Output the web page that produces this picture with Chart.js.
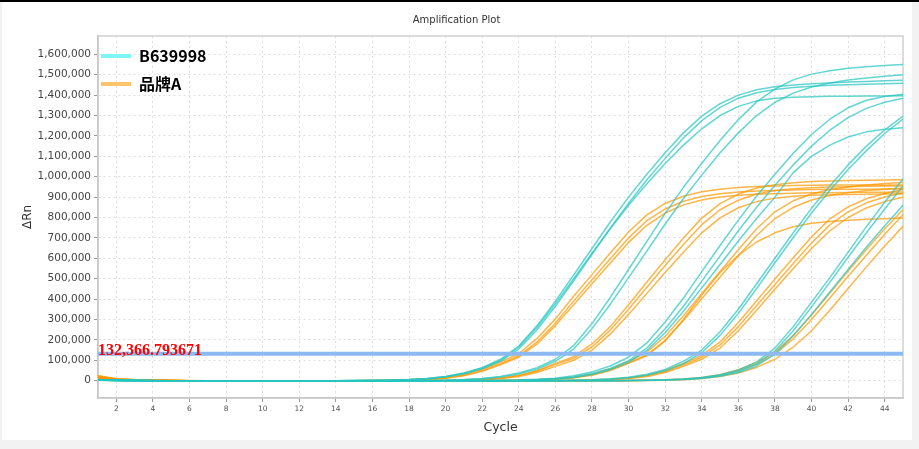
<!DOCTYPE html>
<html>
<head>
<meta charset="utf-8">
<title>Amplification Plot</title>
<script src="https://cdn.jsdelivr.net/npm/chart.js@4.4.1/dist/chart.umd.min.js"></script>
<style>
  html, body { margin: 0; padding: 0; }
  body { width: 919px; height: 449px; background: #f2f2f2; position: relative; overflow: hidden; }
  #topline { position: absolute; left: 0; top: 0; width: 919px; height: 2px; background: #000; }
  #panel { position: absolute; left: 2px; top: 2px; width: 910px; height: 438px; background: #fff; }
  #wrap { position: absolute; left: 0; top: 0; width: 919px; height: 449px; }
</style>
</head>
<body>
<div id="topline"></div>
<div id="panel"></div>
<div id="wrap"><canvas id="chart"></canvas></div>
<script>
// amplification plot - delta Rn per cycle, values in thousands
// cyan = B639998, orange = 品牌A, blue line = threshold

const cycles = [1, 2, 3, 4, 5, 6, 7, 8, 9, 10, 11, 12, 13, 14, 15, 16, 17, 18, 19, 20, 21, 22, 23,
  24, 25, 26, 27, 28, 29, 30, 31, 32, 33, 34, 35, 36, 37, 38, 39, 40, 41, 42, 43, 44, 45];
const cycleTicks = [2, 4, 6, 8, 10, 12, 14, 16, 18, 20, 22, 24, 26, 28, 30, 32, 34, 36, 38, 40, 42, 44];
const rnTicks = [0, 100, 200, 300, 400, 500, 600, 700, 800, 900, 1000, 1100, 1200, 1300, 1400, 1500, 1600];

const threshold = 132.366793671;
const thresholdText = "132,366.793671";

// B639998
const cyanA1 = [5,3,2,1,0,0,0,0,0,0,0,0,0,0,1,2,3,6,11,21,38,64,105,170,270,390,518,648,778,900,1012,1118,1215,1297,1358,1400,1426,1441,1450,1456,1460,1464,1467,1470,1473];
const cyanA2 = [4,2,1,1,0,0,0,0,0,0,0,0,0,0,1,1,3,5,9,18,33,58,95,155,250,365,490,620,748,870,985,1090,1190,1275,1340,1385,1412,1428,1438,1444,1448,1451,1454,1456,1458];
const cyanA3 = [6,3,2,1,0,0,0,0,0,0,0,0,0,0,1,2,3,6,11,20,36,62,100,165,262,378,500,625,745,860,965,1065,1155,1235,1300,1345,1372,1385,1390,1392,1394,1395,1396,1396,1397];
const cyanB1 = [4,2,1,0,0,0,0,0,0,0,0,0,0,0,0,0,0,1,2,3,6,11,21,38,64,105,172,280,408,545,683,820,948,1066,1178,1280,1367,1430,1475,1503,1520,1532,1539,1545,1550];
const cyanB2 = [3,2,1,0,0,0,0,0,0,0,0,0,0,0,0,0,0,1,1,2,5,9,18,33,57,95,155,255,375,505,635,768,893,1008,1118,1215,1300,1365,1410,1440,1460,1474,1484,1493,1500];
const cyanC1 = [5,2,1,0,0,0,0,0,0,0,0,0,0,0,0,0,0,0,0,0,0,1,2,3,7,12,24,43,72,115,185,288,405,535,663,787,905,1012,1115,1207,1282,1338,1375,1393,1405];
const cyanC2 = [3,1,1,0,0,0,0,0,0,0,0,0,0,0,0,0,0,0,0,0,0,1,1,2,5,9,19,35,60,98,160,255,365,488,612,735,850,958,1058,1150,1228,1290,1335,1365,1385];
const cyanC3 = [2,1,0,0,0,0,0,0,0,0,0,0,0,0,0,0,0,0,0,0,0,1,1,2,4,8,16,30,54,90,148,235,340,455,570,685,795,900,1020,1100,1155,1195,1220,1233,1240];
const cyanD1 = [3,1,0,0,0,0,0,0,0,0,0,0,0,0,0,0,0,0,0,0,0,0,0,0,0,1,2,4,9,17,31,55,95,150,240,350,475,600,725,845,955,1058,1150,1230,1297];
const cyanD2 = [2,1,0,0,0,0,0,0,0,0,0,0,0,0,0,0,0,0,0,0,0,0,0,0,0,1,2,3,7,14,27,48,83,137,222,330,452,578,702,822,932,1035,1128,1212,1283];
const cyanE1 = [4,2,1,0,0,0,0,0,0,0,0,0,0,0,0,0,0,0,0,0,0,0,0,0,0,0,0,0,0,1,2,4,8,15,29,52,92,160,265,385,505,630,755,875,990];
const cyanE2 = [3,1,0,0,0,0,0,0,0,0,0,0,0,0,0,0,0,0,0,0,0,0,0,0,0,0,0,0,0,1,2,3,7,13,25,46,82,145,245,362,482,605,725,842,955];
const cyanE3 = [2,1,0,0,0,0,0,0,0,0,0,0,0,0,0,0,0,0,0,0,0,0,0,0,0,0,0,0,0,1,1,3,6,11,22,40,72,130,220,325,435,545,655,760,860];

// 品牌A
const orangeA1 = [25,10,5,3,2,1,0,0,0,0,0,0,0,0,0,1,2,4,8,15,30,56,91,133,207,303,414,520,626,729,813,869,904,926,939,947,952,955,957,958,959,959,960,960,960];
const orangeA2 = [22,8,4,2,1,0,0,0,0,0,0,0,0,0,0,1,2,3,7,13,26,50,83,122,190,283,390,495,598,700,785,842,880,903,917,925,930,933,935,937,938,939,939,940,940];
const orangeA3 = [18,7,3,2,1,0,0,0,0,0,0,0,0,0,0,1,1,3,6,12,24,46,78,115,180,270,372,475,577,678,762,822,862,886,900,909,914,917,919,921,922,923,924,924,925];
const orangeB1 = [20,8,4,2,1,0,0,0,0,0,0,0,0,0,0,0,0,0,1,2,3,7,13,26,50,85,118,180,265,372,484,593,700,797,868,915,945,961,970,976,979,981,983,984,985];
const orangeB2 = [16,6,3,2,1,0,0,0,0,0,0,0,0,0,0,0,0,0,1,1,3,6,12,24,46,80,110,165,248,350,458,565,668,765,838,885,915,932,941,946,949,951,953,954,955];
const orangeB3 = [12,5,2,1,1,0,0,0,0,0,0,0,0,0,0,0,0,0,1,1,2,5,10,20,40,70,100,150,228,325,428,530,630,725,798,848,878,895,904,909,912,913,914,915,916];
const orangeC1 = [20,8,4,2,1,0,0,0,0,0,0,0,0,0,0,0,0,0,0,0,0,1,1,2,4,9,16,32,58,94,140,218,318,428,535,642,745,828,882,915,937,950,960,967,972];
const orangeC2 = [15,6,3,1,1,0,0,0,0,0,0,0,0,0,0,0,0,0,0,0,0,0,1,2,4,8,15,29,53,87,127,198,295,402,508,612,712,795,850,886,908,922,932,939,945];
const orangeC3 = [10,4,2,1,0,0,0,0,0,0,0,0,0,0,0,0,0,0,0,0,0,0,1,2,4,7,14,27,50,85,122,195,300,420,530,615,680,725,755,772,781,787,791,794,797];
const orangeD1 = [14,5,2,1,0,0,0,0,0,0,0,0,0,0,0,0,0,0,0,0,0,0,0,0,0,1,2,4,7,14,27,50,84,124,190,285,392,498,603,705,793,852,892,918,937];
const orangeD2 = [12,5,2,1,0,0,0,0,0,0,0,0,0,0,0,0,0,0,0,0,0,0,0,0,0,1,1,3,6,12,24,45,77,115,175,265,368,472,575,675,764,828,872,901,920];
const orangeD3 = [9,3,1,0,0,0,0,0,0,0,0,0,0,0,0,0,0,0,0,0,0,0,0,0,0,0,1,3,5,10,20,40,70,105,160,245,345,448,550,648,735,800,847,878,900];
const orangeE1 = [16,6,3,1,0,0,0,0,0,0,0,0,0,0,0,0,0,0,0,0,0,0,0,0,0,0,0,0,0,1,2,4,8,15,29,54,88,140,222,322,430,538,643,745,838];
const orangeE2 = [13,5,2,1,0,0,0,0,0,0,0,0,0,0,0,0,0,0,0,0,0,0,0,0,0,0,0,0,0,1,2,3,7,13,26,48,80,130,205,300,405,512,615,718,814];
const orangeE3 = [10,4,2,1,0,0,0,0,0,0,0,0,0,0,0,0,0,0,0,0,0,0,0,0,0,0,0,0,0,0,1,2,5,10,20,38,65,105,165,245,345,452,558,660,757];

const cyanSeries = [cyanA1, cyanA2, cyanA3, cyanB1, cyanB2, cyanC1, cyanC2, cyanC3, cyanD1, cyanD2, cyanE1, cyanE2, cyanE3];
const orangeSeries = [orangeA1, orangeA2, orangeA3, orangeB1, orangeB2, orangeB3, orangeC1, orangeC2, orangeC3,
  orangeD1, orangeD2, orangeD3, orangeE1, orangeE2, orangeE3];

const cyanLine = "rgba(38, 198, 194, 0.72)";
const orangeLine = "rgba(255, 152, 0, 0.72)";
const font = "'DejaVu Sans', sans-serif";

// threshold goes first so it is drawn on top
const datasets = [
  {
    label: "threshold",
    data: [{ x: 1, y: threshold }, { x: 45, y: threshold }],
    borderColor: "#8db9f3",
    borderWidth: 4,
    pointRadius: 0,
  },
];
cyanSeries.forEach((s) => {
  datasets.push({ label: "B639998", data: s, borderColor: cyanLine, borderWidth: 1.5, pointRadius: 0, tension: 0 });
});
orangeSeries.forEach((s) => {
  datasets.push({ label: "品牌A", data: s, borderColor: orangeLine, borderWidth: 1.5, pointRadius: 0, tension: 0 });
});

// grey box round the plot
const framePlugin = {
  id: "frame",
  beforeDatasetsDraw(chart) {
    const { ctx, chartArea: a } = chart;
    ctx.save();
    ctx.strokeStyle = "#d0d0d0";
    ctx.lineWidth = 1.5;
    ctx.strokeRect(a.left, a.top, a.right - a.left, a.bottom - a.top);
    ctx.restore();
  },
};

// red number sitting on the threshold line
const thresholdLabel = {
  id: "thresholdLabel",
  afterDatasetsDraw(chart) {
    const { ctx, chartArea: a, scales } = chart;
    const py = scales.y.getPixelForValue(threshold);
    ctx.save();
    ctx.font = "bold 16px 'Liberation Serif', serif";
    ctx.fillStyle = "#ff0000";
    ctx.textBaseline = "alphabetic";
    ctx.fillText(thresholdText, a.left, py + 1);
    ctx.restore();
  },
};

// legend goes in the top left corner of the plot
const legendShift = {
  id: "legendShift",
  afterLayout(chart) {
    if (!chart.legend) return;
    chart.legend.left = chart.chartArea.left - 9;
    chart.legend.top = chart.chartArea.top;
  },
};

const ctx = document.getElementById("chart");

new Chart(ctx, {
  type: "line",
  data: {
    labels: cycles,
    datasets: datasets,
  },
  options: {
    responsive: true,
    maintainAspectRatio: false,
    animation: false,
    layout: { padding: { left: 10, right: 16, top: 0, bottom: 0 } },
    elements: { line: { borderJoinStyle: "round" } },
    plugins: {
      title: {
        display: true,
        text: "Amplification Plot",
        color: "#333",
        font: { family: font, size: 10, weight: "normal" },
        padding: { top: 14, bottom: 10 },
      },
      legend: {
        position: "chartArea",
        align: "start",
        onClick: null,
        labels: {
          boxWidth: 30,
          boxHeight: 4,
          padding: 12,
          color: "#111",
          font: { family: "'Noto Sans CJK SC', sans-serif", size: 16, weight: "bold" },
          generateLabels: () => [
            { text: "B639998", fillStyle: "#7df6f6", strokeStyle: "#7df6f6", lineWidth: 0, hidden: false, datasetIndex: 1 },
            { text: "品牌A", fillStyle: "#ffc469", strokeStyle: "#ffc469", lineWidth: 0, hidden: false, datasetIndex: 14 },
          ],
        },
      },
      tooltip: { enabled: false },
    },
    scales: {
      x: {
        type: "linear",
        min: 1,
        max: 45,
        afterBuildTicks: (scale) => {
          scale.ticks = cycleTicks.map((v) => ({ value: v }));
        },
        afterFit: (scale) => {
          scale.height = 51;
        },
        ticks: {
          color: "#555",
          font: { family: font, size: 7.5 },
          padding: 3,
          maxRotation: 0,
          autoSkip: false,
        },
        grid: { color: "#dedede", tickColor: "#999", tickLength: 4, tickBorderDash: [] },
        border: { color: "#b3b3b3", width: 1.5, dash: [2, 3] },
        title: {
          display: true,
          text: "Cycle",
          color: "#333",
          font: { family: font, size: 12.5 },
          padding: { top: 0, bottom: 14 },
        },
      },
      y: {
        min: -85,
        max: 1690,
        afterBuildTicks: (scale) => {
          scale.ticks = rnTicks.map((v) => ({ value: v }));
        },
        afterFit: (scale) => {
          scale.width = 88;
        },
        ticks: {
          color: "#444",
          font: { family: font, size: 10.5 },
          padding: 3,
          callback: (v) => (v * 1000).toLocaleString("en-US"),
        },
        grid: { color: "#dedede", tickColor: "#999", tickLength: 4, tickBorderDash: [] },
        border: { color: "#b3b3b3", width: 1.5, dash: [2, 3] },
        title: {
          display: true,
          text: "ΔRn",
          color: "#333",
          font: { family: font, size: 12 },
          padding: { top: 11, bottom: 0 },
        },
      },
    },
  },
  plugins: [framePlugin, thresholdLabel, legendShift],
});
</script>
</body>
</html>
